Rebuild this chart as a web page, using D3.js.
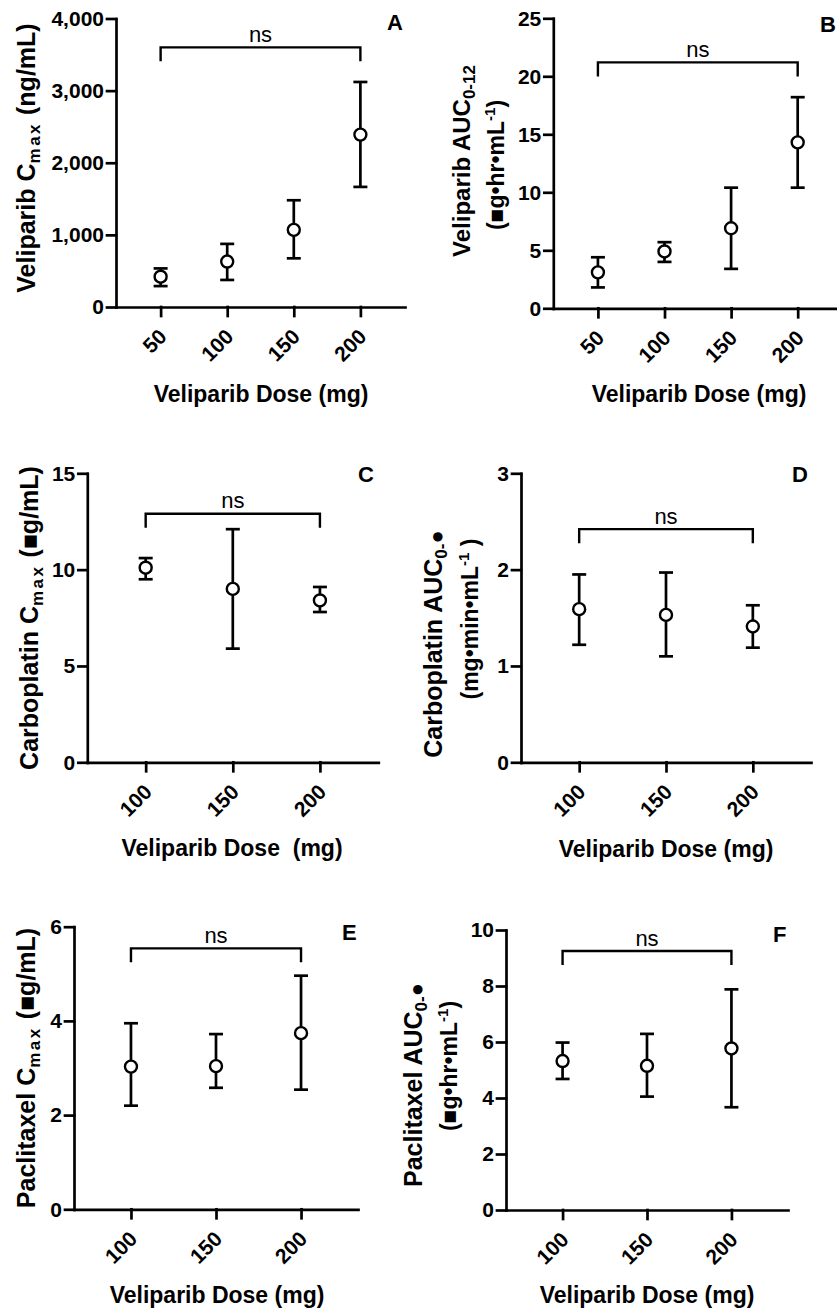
<!DOCTYPE html>
<html>
<head>
<meta charset="utf-8">
<script src="https://cdn.jsdelivr.net/npm/d3@7"></script>
<style>
  body { margin: 0; background: #fff; }
  svg { display: block; font-family: "Liberation Sans", Arial, sans-serif; }
</style>
</head>
<body>
<div id="chart"></div>
<script>
// doses on the x axis
var dosesAB = ["50", "100", "150", "200"];
var dosesCF = ["100", "150", "200"];

// A - veliparib Cmax (ng/mL)
var velCmaxMean = [420, 630, 1070, 2390];
var velCmaxLow = [290, 375, 675, 1665];
var velCmaxHigh = [535, 875, 1480, 3120];
var velCmaxTicks = [0, 1000, 2000, 3000, 4000];

// B - veliparib AUC 0-12
var velAucMean = [3.1, 4.9, 6.9, 14.3];
var velAucLow = [1.8, 4.0, 3.4, 10.4];
var velAucHigh = [4.4, 5.7, 10.4, 18.2];
var velAucTicks = [0, 5, 10, 15, 20, 25];

// C - carboplatin Cmax
var carCmaxMean = [10.1, 9.0, 8.4];
var carCmaxLow = [9.5, 5.9, 7.8];
var carCmaxHigh = [10.6, 12.1, 9.1];
var carCmaxTicks = [0, 5, 10, 15];

// D - carboplatin AUC
var carAucMean = [1.59, 1.53, 1.41];
var carAucLow = [1.22, 1.10, 1.19];
var carAucHigh = [1.95, 1.97, 1.63];
var carAucTicks = [0, 1, 2, 3];

// E - paclitaxel Cmax
var pacCmaxMean = [3.03, 3.04, 3.74];
var pacCmaxLow = [2.2, 2.58, 2.54];
var pacCmaxHigh = [3.95, 3.72, 4.96];
var pacCmaxTicks = [0, 2, 4, 6];

// F - paclitaxel AUC
var pacAucMean = [5.32, 5.15, 5.77];
var pacAucLow = [4.68, 4.05, 3.67];
var pacAucHigh = [5.98, 6.29, 7.88];
var pacAucTicks = [0, 2, 4, 6, 8, 10];

// height of the "ns" bracket in each panel (data units)
var nsLevels = [3600, 21.2, 12.9, 2.42, 5.54, 9.25];

var FONT = "Liberation Sans, Arial, sans-serif";

var svg = d3.select("#chart").append("svg")
  .attr("width", 837)
  .attr("height", 1310);

svg.append("rect").attr("width", 837).attr("height", 1310).attr("fill", "#fff");

// text with sub/superscript pieces
function addRich(text, parts) {
  var shift = 0;
  parts.forEach(function (p) {
    var target = p.s || 0;
    var ts = text.append("tspan").text(p.t).attr("dy", target - shift);
    shift = target;
    if (p.size) ts.attr("font-size", p.size);
    if (p.ls) ts.attr("letter-spacing", p.ls);
  });
}

function drawPanel(o) {
  var g = svg.append("g")
    .attr("transform", "translate(" + o.left + "," + o.top + ")");

  var x = d3.scalePoint().domain(o.cats).range([0, o.width]).padding(0.67);
  var y = d3.scaleLinear().domain([0, o.ticks[o.ticks.length - 1]]).range([o.height, 0]);

  var yAxis = d3.axisLeft(y)
    .tickValues(o.ticks)
    .tickSize(9)
    .tickPadding(3)
    .tickSizeOuter(0)
    .tickFormat(o.fmt || d3.format("d"));

  var xAxis = d3.axisBottom(x)
    .tickSize(9)
    .tickSizeOuter(0);

  g.append("g").call(yAxis)
    .attr("font-family", FONT)
    .attr("font-size", 21)
    .attr("font-weight", "bold");

  var gx = g.append("g")
    .attr("transform", "translate(0," + o.height + ")")
    .call(xAxis)
    .attr("font-family", FONT)
    .attr("font-size", 21)
    .attr("font-weight", "bold");

  gx.selectAll(".tick text")
    .attr("x", 0).attr("y", 0).attr("dy", 0)
    .attr("text-anchor", "end")
    .attr("transform", "translate(7,31) rotate(-45)");

  g.selectAll(".domain, .tick line")
    .attr("stroke", "#000")
    .attr("stroke-width", 2.7)
    .attr("stroke-linecap", "square");
  g.selectAll(".tick text").attr("fill", "#000");

  // error bars
  var bars = g.append("g").selectAll("g")
    .data(o.cats.map(function (c, i) {
      return { cat: c, mean: o.mean[i], lo: o.lo[i], hi: o.hi[i] };
    }))
    .enter().append("g");

  bars.append("line")
    .attr("x1", function (d) { return x(d.cat); })
    .attr("x2", function (d) { return x(d.cat); })
    .attr("y1", function (d) { return y(d.lo); })
    .attr("y2", function (d) { return y(d.hi); });
  bars.append("line")
    .attr("x1", function (d) { return x(d.cat) - 7; })
    .attr("x2", function (d) { return x(d.cat) + 7; })
    .attr("y1", function (d) { return y(d.hi); })
    .attr("y2", function (d) { return y(d.hi); });
  bars.append("line")
    .attr("x1", function (d) { return x(d.cat) - 7; })
    .attr("x2", function (d) { return x(d.cat) + 7; })
    .attr("y1", function (d) { return y(d.lo); })
    .attr("y2", function (d) { return y(d.lo); });
  bars.selectAll("line")
    .attr("stroke", "#000")
    .attr("stroke-width", 2.7);

  bars.append("circle")
    .attr("cx", function (d) { return x(d.cat); })
    .attr("cy", function (d) { return y(d.mean); })
    .attr("r", 6)
    .attr("fill", "#fff")
    .attr("stroke", "#000")
    .attr("stroke-width", 2.4);

  // ns bracket
  var x1 = x(o.cats[0]), x2 = x(o.cats[o.cats.length - 1]);
  var yb = y(o.ns);
  g.append("path")
    .attr("d", "M" + x1 + "," + (yb + 14) + "V" + yb + "H" + x2 + "V" + (yb + 14))
    .attr("fill", "none")
    .attr("stroke", "#000")
    .attr("stroke-width", 2.4);
  g.append("text")
    .attr("x", (x1 + x2) / 2)
    .attr("y", yb - 5.5)
    .attr("text-anchor", "middle")
    .attr("font-size", 22)
    .text("ns");

  // panel letter
  svg.append("text")
    .attr("x", o.letter[0])
    .attr("y", o.letter[1])
    .attr("font-size", 22)
    .attr("font-weight", "bold")
    .text(o.name);

  // x title
  svg.append("text")
    .attr("x", o.xTitle[0])
    .attr("y", o.xTitle[1])
    .attr("text-anchor", "middle")
    .attr("font-size", 23)
    .attr("font-weight", "bold")
    .style("white-space", "pre")
    .text(o.xTitleText);

  // y title (one or two rotated lines)
  o.yLines.forEach(function (ln) {
    var t = svg.append("text")
      .attr("transform", "translate(" + ln.x + "," + ln.cy + ") rotate(-90)")
      .attr("text-anchor", "middle")
      .attr("font-size", ln.size)
      .attr("font-weight", "bold")
      .style("white-space", "pre");
    addRich(t, ln.parts);
  });
}

var dose = "Veliparib Dose (mg)";

drawPanel({
  name: "A", cats: dosesAB, mean: velCmaxMean, lo: velCmaxLow, hi: velCmaxHigh,
  ticks: velCmaxTicks, fmt: d3.format(","), ns: nsLevels[0],
  left: 116, top: 18.5, width: 289, height: 288.5,
  letter: [387, 30], xTitle: [261, 402], xTitleText: dose,
  yLines: [{ x: 35, cy: 158, size: 25, parts: [
    { t: "Veliparib C" }, { t: "max", s: 5, size: 17, ls: 2.5 }, { t: " (ng/mL)" }] }]
});

drawPanel({
  name: "B", cats: dosesAB, mean: velAucMean, lo: velAucLow, hi: velAucHigh,
  ticks: velAucTicks, ns: nsLevels[1],
  left: 553.3, top: 18.3, width: 289, height: 290,
  letter: [820, 32], xTitle: [699, 402], xTitleText: dose,
  yLines: [
    { x: 470, cy: 161, size: 24, parts: [{ t: "Veliparib AUC" }, { t: "0-12", s: 5, size: 17 }] },
    { x: 504, cy: 165, size: 23, parts: [{ t: "(\u25A0g\u2022hr\u2022mL" }, { t: "-1", s: -9, size: 15 }, { t: ")" }] }
  ]
});

drawPanel({
  name: "C", cats: dosesCF, mean: carCmaxMean, lo: carCmaxLow, hi: carCmaxHigh,
  ticks: carCmaxTicks, ns: nsLevels[2],
  left: 87.3, top: 473.3, width: 291, height: 289,
  letter: [358, 482], xTitle: [232, 856], xTitleText: "Veliparib Dose  (mg)",
  yLines: [{ x: 38, cy: 618, size: 25, parts: [
    { t: "Carboplatin C" }, { t: "max", s: 5, size: 17, ls: 2.5 }, { t: " (\u25A0g/mL)" }] }]
});

drawPanel({
  name: "D", cats: dosesCF, mean: carAucMean, lo: carAucLow, hi: carAucHigh,
  ticks: carAucTicks, ns: nsLevels[3],
  left: 521, top: 473.3, width: 290, height: 289,
  letter: [792, 482], xTitle: [666, 857], xTitleText: dose,
  yLines: [
    { x: 442, cy: 644, size: 25, parts: [{ t: "Carboplatin AUC" }, { t: "0-", s: 5, size: 17 }, { t: "\u25CF", s: 2, size: 22 }] },
    { x: 478, cy: 619, size: 23, parts: [{ t: "(mg\u2022min\u2022mL" }, { t: "-1", s: -9, size: 15 }, { t: " )" }] }
  ]
});

drawPanel({
  name: "E", cats: dosesCF, mean: pacCmaxMean, lo: pacCmaxLow, hi: pacCmaxHigh,
  ticks: pacCmaxTicks, ns: nsLevels[4],
  left: 74, top: 926.7, width: 284, height: 282.6,
  letter: [342, 940], xTitle: [217, 1303], xTitleText: dose,
  yLines: [{ x: 35, cy: 1068, size: 25, parts: [
    { t: "Paclitaxel C" }, { t: "max", s: 5, size: 17, ls: 2.5 }, { t: " (\u25A0g/mL)" }] }]
});

drawPanel({
  name: "F", cats: dosesCF, mean: pacAucMean, lo: pacAucLow, hi: pacAucHigh,
  ticks: pacAucTicks, ns: nsLevels[5],
  left: 506, top: 930, width: 282, height: 280,
  letter: [773, 942], xTitle: [647, 1303], xTitleText: dose,
  yLines: [
    { x: 422, cy: 1085, size: 25, parts: [{ t: "Paclitaxel AUC" }, { t: "0-", s: 5, size: 17 }, { t: "\u25CF", s: 2, size: 22 }] },
    { x: 457, cy: 1066, size: 23, parts: [{ t: "(\u25A0g\u2022hr\u2022mL" }, { t: "-1", s: -9, size: 15 }, { t: ")" }] }
  ]
});
</script>
</body>
</html>
